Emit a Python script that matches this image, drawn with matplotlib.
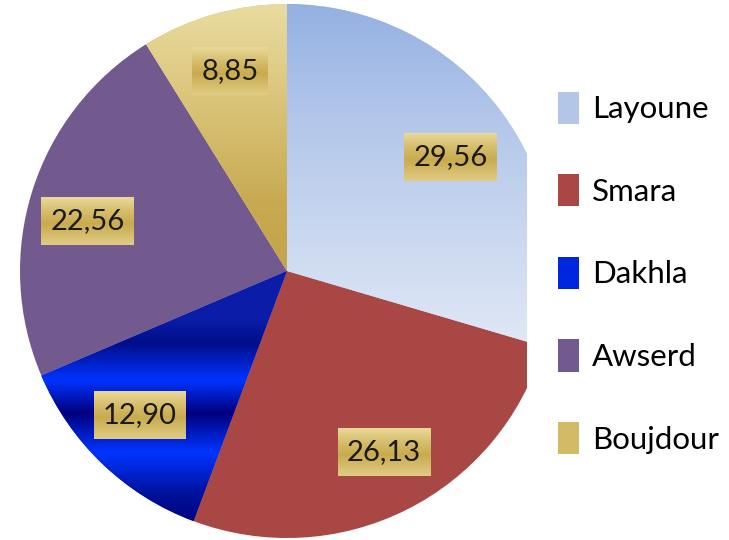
import numpy as np
import matplotlib
matplotlib.use("Agg")
import matplotlib.pyplot as plt
from matplotlib.colors import LinearSegmentedColormap
from matplotlib.patches import Patch

plt.rcParams['font.family'] = ['Lato', 'DejaVu Sans']

categories = ["Layoune", "Smara", "Dakhla", "Awserd", "Boujdour"]
values = [29.56, 26.13, 12.90, 22.56, 8.85]
value_labels = ["29,56", "26,13", "12,90", "22,56", "8,85"]

base_colors = ["#b9cbea", "#a94744", "#0026e0", "#725a8e", "#d6bf6c"]
label_angle_offsets = [-2.0, 1.6, -2, 3.5, 0]
label_radius = [0.745, 0.77, 0.77, 0.77, 0.78]

W, H = 729, 540
cx, cy, R = 287, 271, 267

fig = plt.figure(figsize=(W / 100, H / 100), dpi=100)
ax = fig.add_axes([0, 0, 527 / W, 1])
wedges, _ = ax.pie(values, colors=base_colors, startangle=90, counterclock=False,
                   radius=1, wedgeprops=dict(linewidth=0))
for w in wedges:
    w.set_clip_on(True)
    w.set_clip_box(ax.bbox)


def py2d(py):
    return (cy - py) / R


def grad(wedge, stops, zorder=1.5):
    ys = [py2d(p) for p, _ in stops]
    ylo, yhi = min(ys), max(ys)
    pos = [(y - ylo) / (yhi - ylo) for y in ys]
    pairs = sorted(zip(pos, [c for _, c in stops]))
    cmap = LinearSegmentedColormap.from_list("g", pairs)
    yy = np.linspace(-1.05, 1.05, 600)
    Z = np.clip((yy - ylo) / (yhi - ylo), 0, 1)[:, None]
    im = ax.imshow(Z, extent=[-1.05, 1.05, -1.05, 1.05], origin='lower', cmap=cmap,
                   vmin=0, vmax=1, aspect='auto', zorder=zorder, interpolation='bilinear')
    im.set_clip_path(wedge)


# Layoune: soft blue vertical gradient
grad(wedges[0], [(5, "#95b1e2"), (120, "#b3c7ea"), (340, "#dfe7f5")])
# Dakhla: banded blue
grad(wedges[2], [(320, "#0a1ca8"), (343, "#000e8a"), (380, "#0033ff"),
                 (413, "#00007e"), (453, "#0035ff"), (495, "#00109a"), (530, "#00007a")])
# Boujdour: gold gradient
grad(wedges[4], [(5, "#e9dba0"), (90, "#dcc77d"), (200, "#c8aa52"), (271, "#c4a44a")])

ax.set_xlim(-cx / R, (527 - cx) / R)
ax.set_ylim(-(H - cy) / R, cy / R)
ax.set_aspect('auto')
ax.axis('off')

# value labels
texts = []
for w, lab, off, rr in zip(wedges, value_labels, label_angle_offsets, label_radius):
    mid = np.deg2rad((w.theta1 + w.theta2) / 2 + off)
    x, y = rr * np.cos(mid), rr * np.sin(mid)
    t = ax.text(x, y, lab, ha='center', va='center', fontsize=21,
                color="#1a1a1a", zorder=5)
    texts.append(t)

fig.canvas.draw()
renderer = fig.canvas.get_renderer()
box_cmap = LinearSegmentedColormap.from_list(
    "box", [(0, "#e0cc84"), (0.45, "#c9aa4e"), (0.75, "#d9c172"), (1, "#ead99a")])
inv = ax.transData.inverted()
for t in texts:
    bb = t.get_window_extent(renderer)
    x0, x1 = bb.x0 - 9, bb.x1 + 9
    ymid = (bb.y0 + bb.y1) / 2
    y0, y1 = ymid - 24, ymid + 24
    (dx0, dy0) = inv.transform((x0, y0))
    (dx1, dy1) = inv.transform((x1, y1))
    Z = np.linspace(0, 1, 100)[:, None]
    ax.imshow(Z, extent=[dx0, dx1, dy0, dy1], origin='lower', cmap=box_cmap,
              aspect='auto', zorder=4, interpolation='bilinear')

ax.set_xlim(-cx / R, (527 - cx) / R)
ax.set_ylim(-(H - cy) / R, cy / R)

handles = [Patch(facecolor=c, edgecolor='none') for c in
           ["#b4c6e8", "#a94744", "#0026e0", "#725a8e", "#d3bb66"]]
fig.legend(handles, categories, loc='upper left', bbox_to_anchor=(545 / W, 1 - 79 / H),
           frameon=False, fontsize=22.5, handlelength=0.7, handleheight=1.2,
           handletextpad=0.4, labelspacing=1.62, borderaxespad=0)

fig.savefig("out.png", dpi=100)
